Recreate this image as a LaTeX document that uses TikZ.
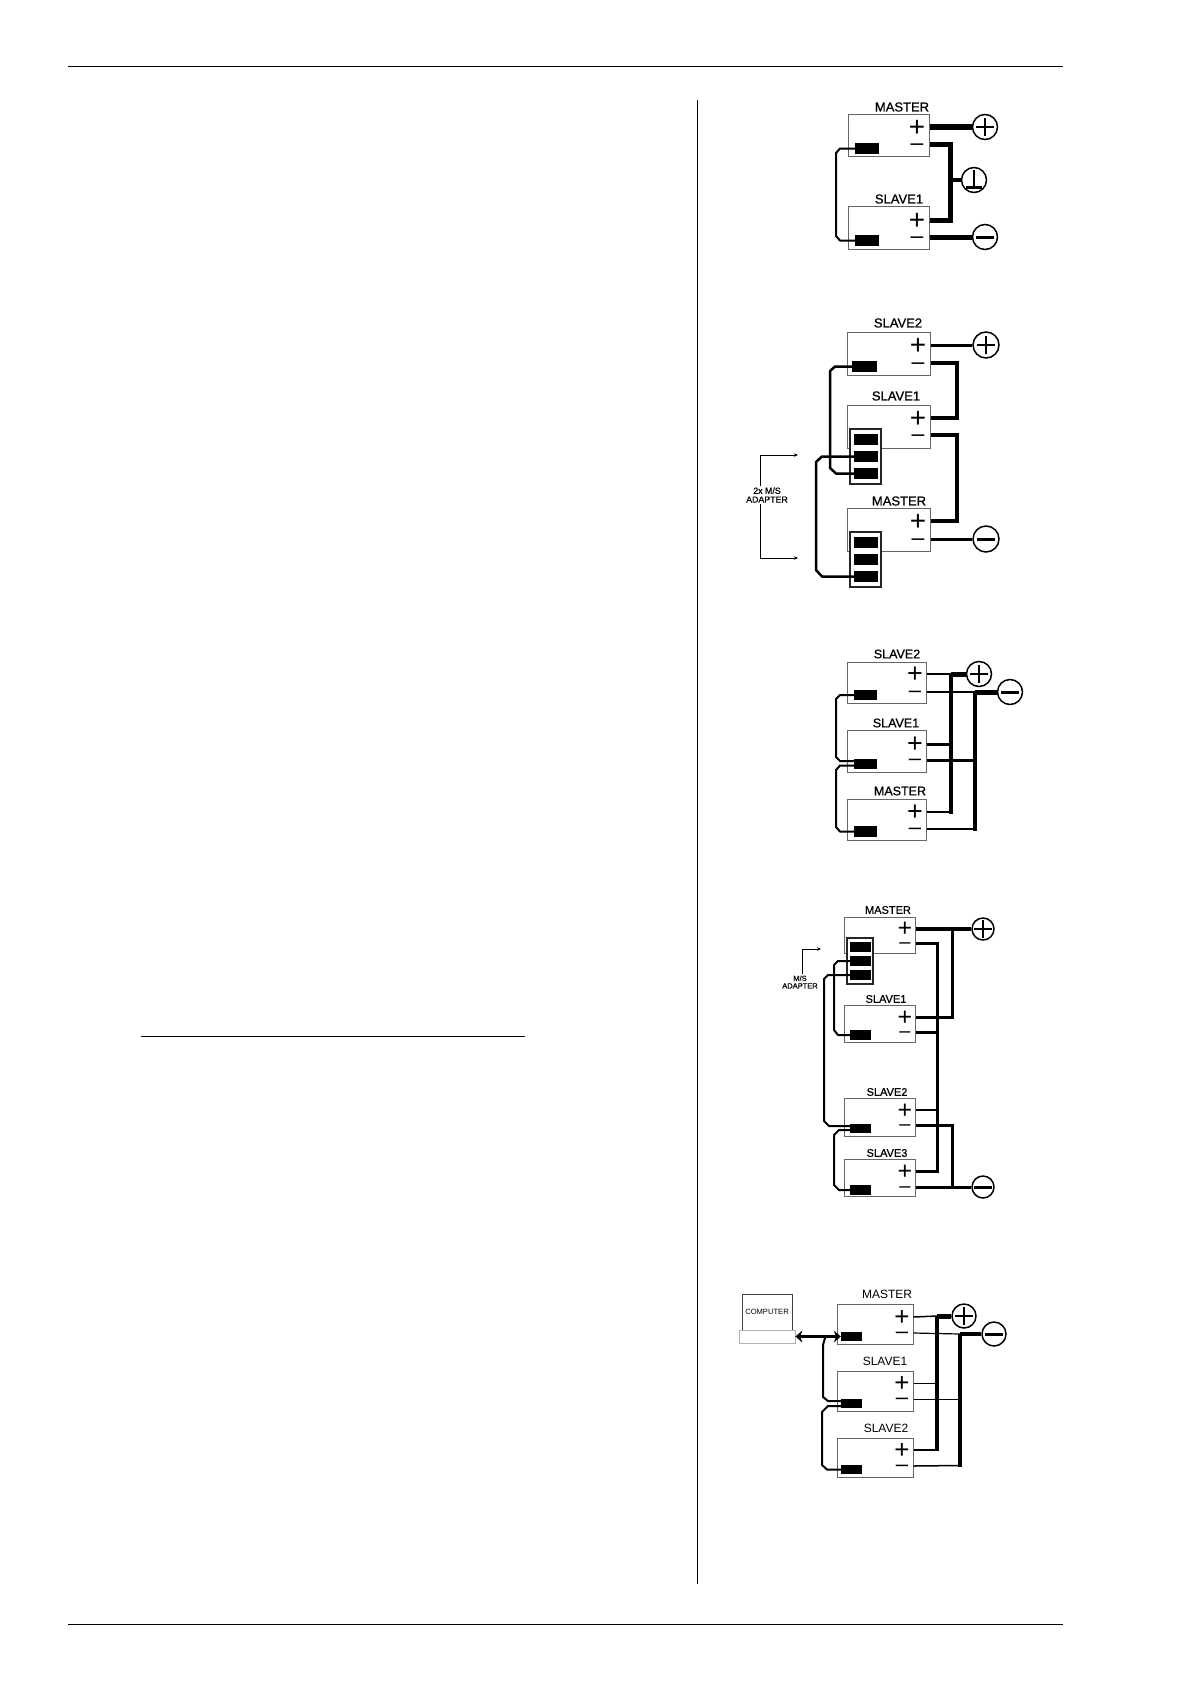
\documentclass[tikz,border=0pt]{standalone}
\usepackage{fontspec}
\setmainfont{Liberation Sans}
\newfontfamily\heavyfont[FakeBold=0.8]{Liberation Sans}
\usetikzlibrary{arrows.meta}
\tikzset{
  rulez/.style={line width=.9pt,black},
  unitbox/.style 2 args={draw=black!60,line width=1pt,fill=white,inner sep=0,minimum width=#1,minimum height=#2},
  unitlabel/.style={inner sep=0,font=\heavyfont\fontsize{#1}{#1}\selectfont},
  unitlabel/.default=13,
  thinlabel/.style={inner sep=0,font=\fontsize{#1}{#1}\selectfont},
  plussign/.code={\pgfmathsetlengthmacro\signh{#1*0.66}\tikzset{inner sep=0,text height=\signh,text depth=0pt,font=\fontsize{#1}{#1}\selectfont}},
  plussign/.default=28,
  minussign/.code={\pgfmathsetlengthmacro\signh{#1*0.54}\tikzset{inner sep=0,text height=\signh,text depth=0pt,font=\fontsize{#1}{#1}\selectfont}},
  minussign/.default=23,
  port/.style 2 args={fill=black,inner sep=0,minimum width=#1,minimum height=#2},
  adapter/.style 2 args={draw=black!85,line width=1.4pt,fill=white,inner sep=0,minimum width=#1,minimum height=#2},
  wire/.style={line width=#1,line join=miter},
  sigwire/.style={line width=#1,line join=round},
  sigwire/.default=2,
  lead/.style={line width=.6pt,-{Stealth[length=4pt,width=3.5pt]}},
  smalltext/.style={inner sep=1pt,align=center,font=\heavyfont\fontsize{#1}{#1}\selectfont},
  thintext/.style={inner sep=1pt,align=center,font=\fontsize{#1}{#1}\selectfont},
  termbase/.style={circle,draw,fill=white,line width=1.5pt,inner sep=0,minimum size=#1},
  plusterm/.style={termbase=#1,path picture={
    \draw[line width=2.7pt] ([xshift=-9pt]path picture bounding box.center) -- ([xshift=9pt]path picture bounding box.center);
    \draw[line width=2.7pt] ([yshift=-9pt]path picture bounding box.center) -- ([yshift=9pt]path picture bounding box.center);}},
  plusterm/.default=25,
  minusterm/.style={termbase=#1,path picture={
    \draw[line width=3pt] ([xshift=-9pt]path picture bounding box.center) -- ([xshift=9pt]path picture bounding box.center);}},
  minusterm/.default=25,
  groundterm/.style={termbase=#1,path picture={
    \draw[line width=2.4pt] ([yshift=10pt]path picture bounding box.center) -- ([yshift=-6pt]path picture bounding box.center);
    \draw[line width=3pt] ([xshift=-8pt,yshift=-7pt]path picture bounding box.center) -- ([xshift=8pt,yshift=-7pt]path picture bounding box.center);}},
  groundterm/.default=25
}
\begin{document}
\begin{tikzpicture}[x=1pt,y=-1pt]
  \useasboundingbox (0,0) rectangle (1190,1684);
  \draw[rulez] (68,66) -- (1063,66);
  \draw[rulez] (68,1624) -- (1063,1624);
  \draw[rulez] (697,100) -- (697,1584);
  \draw[rulez] (141,1036) -- (525,1036);

  \node[unitbox={81}{42}] (am) at (888.5,135) {};
  \node[unitbox={81}{43}] (as1) at (888.5,227.5) {};
  \node[unitlabel] at (902,107) {MASTER};
  \node[unitlabel] at (899,199) {SLAVE1};
  \node[plussign] (amp) at (917,127) {+};
  \node[minussign] (amn) at (917,144) {–};
  \node[plussign] (as1p) at (917,220) {+};
  \node[minussign] (as1n) at (917,237) {–};
  \node[port={24}{11}] (amc) at (867,148.5) {};
  \node[port={24}{11}] (as1c) at (867,240.5) {};
  \node[plusterm] (atp) at (985,127) {};
  \node[groundterm] (atg) at (974,180) {};
  \node[minusterm] (atn) at (985,237) {};
  \draw[sigwire] (amc.west) -- (840,148.5) -- (836,153) -- (836,236) -- (840,240.5) -- (as1c.west);
  \draw[wire=6.5] (atp -| am.east) -- (atp);
  \draw[wire=5] (atn -| as1.east) -- (atn);
  \draw[wire=5] (amn -| am.east) -- (950,144) -- (950,220) -- (as1p -| as1.east);
  \draw[wire=4] (950,180) -- (atg);

  \node[unitbox={83}{43}] (bs2) at (888.5,353.5) {};
  \node[unitbox={83}{43}] (bs1) at (888.5,426.5) {};
  \node[unitbox={83}{43}] (bm) at (888.5,529.5) {};
  \node[unitlabel] at (898,323) {SLAVE2};
  \node[unitlabel] at (896,396) {SLAVE1};
  \node[unitlabel] at (899,501) {MASTER};
  \node[plussign] (bs2p) at (918,345) {+};
  \node[minussign] (bs2n) at (918,363) {–};
  \node[plussign] (bs1p) at (918,418) {+};
  \node[minussign] (bs1n) at (918,435) {–};
  \node[plussign] (bmp) at (918,521) {+};
  \node[minussign] (bmn) at (918,539) {–};
  \node[port={25}{11}] (bs2c) at (864.5,366.5) {};
  \node[adapter={31}{55}] (bs1a) at (865.5,456.5) {};
  \node[adapter={31}{55}] (bma) at (865.5,559.5) {};
  \foreach \k/\y in {1/439.5,2/456.5,3/473.5} {
    \node[port={24}{11}] (bs1c\k) at (866,\y) {};
  }
  \foreach \k/\y in {1/542.5,2/559.5,3/576.5} {
    \node[port={24}{11}] (bmc\k) at (866,\y) {};
  }
  \node[plusterm=26] (btp) at (986,345) {};
  \node[minusterm=26] (btn) at (986,539) {};
  \draw[sigwire=2.5] (bs2c.west) -- (835,366.5) -- (830,371) -- (830,468) -- (836,473.5) -- (bs1c3.west);
  \draw[sigwire=2.5] (bs1c2.west) -- (822,456.5) -- (816,462) -- (816,570) -- (822,576.5) -- (bmc3.west);
  \draw[wire=3] (btp -| bs2.east) -- (btp);
  \draw[wire=3] (btn -| bm.east) -- (btn);
  \draw[wire=3.5] (bs2n -| bs2.east) -- (957,363) -- (957,418) -- (bs1p -| bs1.east);
  \draw[wire=3.5] (bs1n -| bs1.east) -- (957,435) -- (957,521) -- (bmp -| bm.east);
  \node[smalltext=8.8] (bnote) at (767,495) {2x M/S\\ADAPTER};
  \coordinate (btipa) at (798,455);
  \coordinate (btipb) at (798,558);
  \draw[lead] ([xshift=-7pt]bnote.north) |- (btipa);
  \draw[lead] ([xshift=-7pt]bnote.south) |- (btipb);

  \node[unitbox={79}{41}] (cs2) at (886.5,682.5) {};
  \node[unitbox={79}{42}] (cs1) at (886.5,751) {};
  \node[unitbox={79}{41}] (cm) at (886.5,819.5) {};
  \node[unitlabel=12.5] at (897,654) {SLAVE2};
  \node[unitlabel=12.5] at (896,723) {SLAVE1};
  \node[unitlabel=12.5] at (900,791) {MASTER};
  \node[plussign=27] (cs2p) at (915,674) {+};
  \node[minussign=22] (cs2n) at (915,692) {–};
  \node[plussign=27] (cs1p) at (915,744) {+};
  \node[minussign=22] (cs1n) at (915,760) {–};
  \node[plussign=27] (cmp) at (915,812) {+};
  \node[minussign=22] (cmn) at (915,829) {–};
  \node[port={23}{10.5}] (cs2c) at (865.5,695) {};
  \node[port={23}{10.5}] (cs1c) at (865.5,764) {};
  \node[port={23}{10.5}] (cmc) at (865.5,831.5) {};
  \node[plusterm] (ctp) at (979,674) {};
  \node[minusterm] (ctn) at (1010,692) {};
  \coordinate (cbusp) at (951,674);
  \coordinate (cbusn) at (974.5,692);
  \draw[sigwire] (cs2c.west) -- (840,695) -- (836,699) -- (836,757) -- (840,761) -- ([yshift=3pt]cs1c.west);
  \draw[sigwire] ([yshift=-1.5pt]cs1c.west) -- (840,765.5) -- (836,770) -- (836,827) -- (840,831.5) -- (cmc.west);
  \draw[wire=2] (cs2p -| cs2.east) -- (cbusp);
  \draw[wire=5] (cbusp) -- (ctp);
  \draw[wire=1.5] (cs2n -| cs2.east) -- (cbusn);
  \draw[wire=5] (cbusn) -- (ctn);
  \draw[wire=4] (cbusp) -- (951,814);
  \draw[wire=4] (cbusn) -- (974.5,831);
  \draw[wire=1.5] (cmp -| cm.east) -- (951,812);
  \draw[wire=1.5] (cmn -| cm.east) -- (974.5,829);
  \draw[wire=3] (cs1p -| cs1.east) -- (953,744);
  \draw[wire=3] (cs1n -| cs1.east) -- (974.5,760);

  \node[unitbox={71}{36}] (dm) at (879.5,935) {};
  \node[unitbox={71}{37}] (ds1) at (879.5,1023.5) {};
  \node[unitbox={71}{38}] (ds2) at (879.5,1117) {};
  \node[unitbox={71}{37}] (ds3) at (879.5,1177.5) {};
  \node[unitlabel=11] at (888,910) {MASTER};
  \node[unitlabel=11] at (886,999) {SLAVE1};
  \node[unitlabel=11] at (887,1092) {SLAVE2};
  \node[unitlabel=11] at (887,1153) {SLAVE3};
  \node[plussign=25] (dmp) at (905,928) {+};
  \node[minussign=20] (dmn) at (905,943) {–};
  \node[plussign=25] (ds1p) at (905,1017) {+};
  \node[minussign=20] (ds1n) at (905,1032) {–};
  \node[plussign=25] (ds2p) at (905,1110) {+};
  \node[minussign=20] (ds2n) at (905,1125) {–};
  \node[plussign=25] (ds3p) at (905,1171) {+};
  \node[minussign=20] (ds3n) at (905,1187) {–};
  \node[adapter={26}{46}] (dma) at (860,961) {};
  \foreach \k/\y in {1/947,2/961,3/975} {
    \node[port={21}{10}] (dmc\k) at (860.5,\y) {};
  }
  \node[port={21}{10}] (ds1c) at (860.5,1035) {};
  \node[port={21}{9.5}] (ds2c) at (860.5,1128.5) {};
  \node[port={21}{10}] (ds3c) at (860.5,1190) {};
  \node[plusterm=22] (dtp) at (983,929) {};
  \node[minusterm=22] (dtn) at (983,1187) {};
  \draw[sigwire] (dmc2.west) -- (838,961) -- (834,965) -- (834,1030) -- (838,1035) -- (ds1c.west);
  \draw[sigwire] (dmc3.west) -- (828,975) -- (824,979) -- (824,1121) -- (829,1126) -- ([yshift=2.5pt]ds2c.west);
  \draw[sigwire] ([yshift=-1.5pt]ds2c.west) -- (839,1130) -- (834,1135) -- (834,1185) -- (839,1190) -- (ds3c.west);
  \draw[wire=3.5] (dtp -| dm.east) -- (dtp);
  \draw[wire=3] (ds1p -| ds1.east) -- (952,1017) -- (952,929);
  \draw[wire=3] (dmn -| dm.east) -- (937,943) -- (937,1171) -- (ds3p -| ds3.east);
  \draw[wire=3] (ds1n -| ds1.east) -- (937,1032);
  \draw[wire=2.5] (ds2p -| ds2.east) -- (937,1110);
  \draw[wire=3] (dtn -| ds3.east) -- (dtn);
  \draw[wire=3] (ds2n -| ds2.east) -- (952,1125) -- (952,1187);
  \node[smalltext=7.5] (dnote) at (800,982) {M/S\\ADAPTER};
  \coordinate (dtip) at (821,949);
  \draw[lead] ([xshift=2pt]dnote.north) |- (dtip);

  \node[unitbox={76}{40}] (em) at (875,1324) {};
  \node[unitbox={76}{40}] (es1) at (875,1391) {};
  \node[unitbox={76}{39}] (es2) at (875,1457.5) {};
  \node[thinlabel=12] at (887,1294) {MASTER};
  \node[thinlabel=12] at (885,1361) {SLAVE1};
  \node[thinlabel=12] at (886,1428) {SLAVE2};
  \node[plussign=26] (emp) at (902,1317) {+};
  \node[minussign=22] (emn) at (902,1333) {–};
  \node[plussign=26] (es1p) at (902,1383) {+};
  \node[minussign=22] (es1n) at (902,1399) {–};
  \node[plussign=26] (es2p) at (902,1450) {+};
  \node[minussign=22] (es2n) at (902,1466) {–};
  \node[port={21}{9}] (emc) at (851.5,1336.5) {};
  \node[port={21}{9}] (es1c) at (851.5,1403.5) {};
  \node[port={21}{9}] (es2c) at (851.5,1469.5) {};
  \node[draw=black!75,line width=.7pt,inner sep=0,minimum width=50,minimum height=36] (epc) at (767,1312) {};
  \node[draw=black!30,line width=.8pt,inner sep=0,minimum width=56,minimum height=13] (epclow) at (767,1336.5) {};
  \node[thintext=7.6] at (767,1312) {COMPUTER};
  \node[plusterm=24] (etp) at (964,1316) {};
  \node[minusterm=24] (etn) at (994,1334) {};
  \coordinate (ebusp) at (937,1316);
  \coordinate (ebusn) at (960,1334);
  \draw[line width=3.5pt,{Stealth[length=7pt,width=12pt]}-{Stealth[length=7pt,width=12pt]}] (emc.west -| epclow.east) -- (emc.west);
  \draw[sigwire] (825,1338) -- (823,1345) -- (823,1397) -- (828,1401) -- ([yshift=2.5pt]es1c.west);
  \draw[sigwire] ([yshift=-2.5pt]es1c.west) -- (828,1406) -- (822,1412) -- (822,1465) -- (827,1469.5) -- (es2c.west);
  \draw[wire=1.5] (emp -| em.east) -- (ebusp);
  \draw[wire=5] (ebusp) -- (etp);
  \draw[wire=1.2] (emn -| em.east) -- (ebusn);
  \draw[wire=4] (ebusn) -- (etn);
  \draw[wire=3.5] (ebusp) -- (937,1451);
  \draw[wire=4] (ebusn) -- (960,1467);
  \draw[wire=1] (es1p -| es1.east) -- (937,1383);
  \draw[wire=1] (es1n -| es1.east) -- (960,1399);
  \draw[wire=1.5] (es2p -| es2.east) -- (937,1450);
  \draw[wire=1.5] (es2n -| es2.east) -- (960,1465.5);
\end{tikzpicture}
\end{document}
